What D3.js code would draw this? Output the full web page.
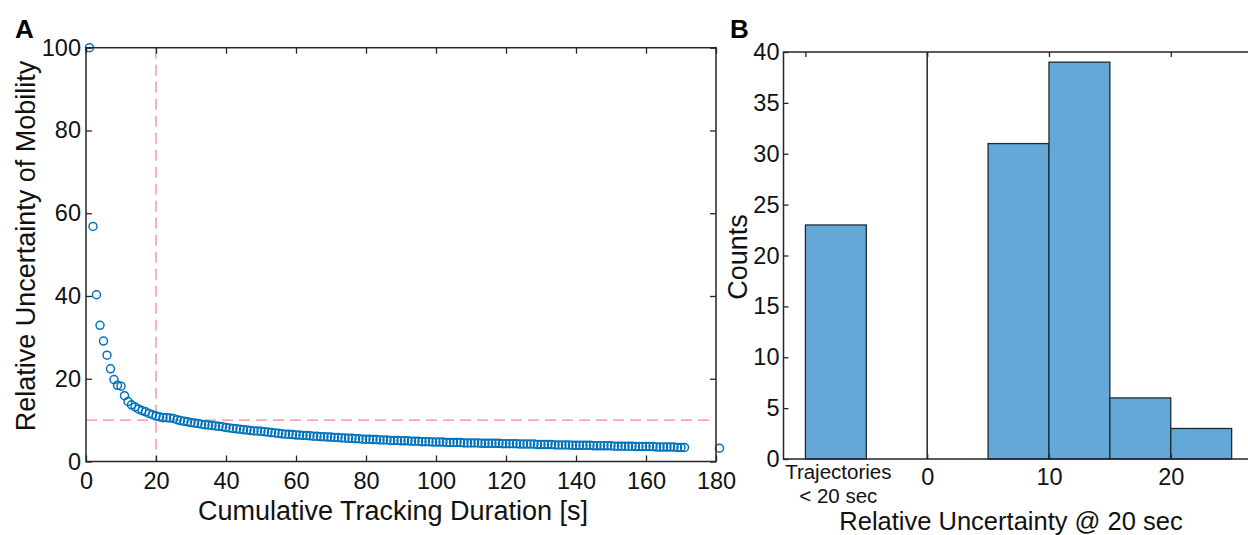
<!DOCTYPE html>
<html>
<head>
<meta charset="utf-8">
<script src="https://cdn.jsdelivr.net/npm/d3@7"></script>
<style>
  body { margin: 0; background: #fff; }
  svg { display: block; font-family: "Liberation Sans", Arial, Helvetica, sans-serif; }
</style>
</head>
<body>
<svg id="chart" width="1248" height="535"></svg>
<script>
// panel A: relative uncertainty vs cumulative tracking duration
var durations = [
  1,2,3,4,5,6,7,8,9,10,11,12,13,14,15,16,17,18,19,20,
  21,22,23,24,25,26,27,28,29,30,31,32,33,34,35,36,37,38,39,40,
  41,42,43,44,45,46,47,48,49,50,51,52,53,54,55,56,57,58,59,60,
  61,62,63,64,65,66,67,68,69,70,71,72,73,74,75,76,77,78,79,80,
  81,82,83,84,85,86,87,88,89,90,91,92,93,94,95,96,97,98,99,100,
  101,102,103,104,105,106,107,108,109,110,111,112,113,114,115,116,117,118,119,120,
  121,122,123,124,125,126,127,128,129,130,131,132,133,134,135,136,137,138,139,140,
  141,142,143,144,145,146,147,148,149,150,151,152,153,154,155,156,157,158,159,160,
  161,162,163,164,165,166,167,168,169,170,171,181
];
var uncertainty = [
  100,56.8,40.3,32.9,29.1,25.7,22.4,19.8,18.4,18.2,15.9,14.5,13.7,13.2,12.7,12.3,12.0,11.6,11.3,11.0,
  10.8,10.6,10.6,10.5,10.4,10.1,9.9,9.7,9.6,9.4,9.3,9.2,9.0,8.9,8.8,8.7,8.6,8.5,8.4,8.2,
  8.1,8.0,7.9,7.8,7.7,7.6,7.5,7.4,7.4,7.3,7.2,7.1,7.0,6.9,6.8,6.7,6.6,6.6,6.5,6.4,
  6.4,6.3,6.3,6.2,6.1,6.1,6.0,6.0,5.9,5.9,5.8,5.8,5.7,5.7,5.6,5.6,5.5,5.5,5.4,5.4,
  5.4,5.3,5.3,5.2,5.2,5.2,5.1,5.1,5.1,5.0,5.0,5.0,4.9,4.9,4.9,4.8,4.8,4.8,4.7,4.7,
  4.7,4.7,4.6,4.6,4.6,4.6,4.6,4.5,4.5,4.5,4.5,4.5,4.4,4.4,4.4,4.4,4.4,4.4,4.3,4.3,
  4.3,4.3,4.3,4.2,4.2,4.2,4.2,4.2,4.1,4.1,4.1,4.1,4.1,4.0,4.0,4.0,4.0,4.0,3.9,3.9,
  3.9,3.9,3.9,3.9,3.8,3.8,3.8,3.8,3.8,3.8,3.7,3.7,3.7,3.7,3.7,3.7,3.6,3.6,3.6,3.6,
  3.6,3.6,3.5,3.5,3.5,3.5,3.5,3.5,3.4,3.4,3.4,3.2
];
var xTicksA = [0,20,40,60,80,100,120,140,160,180];
var yTicksA = [0,20,40,60,80,100];
var cutoffDuration = 20;
var cutoffUncertainty = 10;

// panel B: histogram of relative uncertainty at 20 sec
var binStarts = [-10, 0, 5, 10, 15, 20];
var binEnds   = [-5, 5, 10, 15, 20, 25];
var counts    = [23, 0, 31, 39, 6, 3];
var xTicksB = [0, 10, 20];
var yTicksB = [0,5,10,15,20,25,30,35,40];
var shortLabel = ["Trajectories", "< 20 sec"];

var axisColor = "#262626";
var svg = d3.select("#chart");

// ---------- panel A ----------
var xA = d3.scaleLinear().domain([0,180]).range([86,716]);
var yA = d3.scaleLinear().domain([0,100]).range([461.5,47.7]);

var gA = svg.append("g");

gA.append("line")
  .attr("x1", xA(cutoffDuration)).attr("x2", xA(cutoffDuration))
  .attr("y1", yA(100)).attr("y2", yA(0))
  .attr("stroke", "#f28b8b").attr("stroke-width", 1.3).attr("stroke-dasharray", "11,6");
gA.append("line")
  .attr("x1", xA(0)).attr("x2", xA(180))
  .attr("y1", yA(cutoffUncertainty)).attr("y2", yA(cutoffUncertainty))
  .attr("stroke", "#f28b8b").attr("stroke-width", 1.3).attr("stroke-dasharray", "11,6");

gA.selectAll(".pt")
  .data(durations)
  .enter().append("circle")
  .attr("class", "pt")
  .attr("cx", function(d){ return xA(d); })
  .attr("cy", function(d,i){ return yA(uncertainty[i]); })
  .attr("r", 4)
  .attr("fill", "none")
  .attr("stroke", "#0072bd")
  .attr("stroke-width", 1.5);

function styleAxis(g){
  g.select(".domain").remove();
  g.selectAll(".tick line").attr("stroke", axisColor).attr("stroke-width", 1.3);
  g.selectAll(".tick text").attr("fill", "#111").attr("font-size", 23.5);
}

gA.append("g").attr("transform","translate(0,"+yA(0)+")")
  .call(d3.axisBottom(xA).tickValues(xTicksA).tickSizeInner(-6).tickSizeOuter(0).tickPadding(11))
  .call(styleAxis);
gA.append("g").attr("transform","translate(0,"+yA(100)+")")
  .call(d3.axisTop(xA).tickValues(xTicksA).tickSizeInner(-6).tickSizeOuter(0).tickFormat(""))
  .call(styleAxis);
gA.append("g").attr("transform","translate("+xA(0)+",0)")
  .call(d3.axisLeft(yA).tickValues(yTicksA).tickSizeInner(-6).tickSizeOuter(0).tickPadding(5))
  .call(styleAxis);
gA.append("g").attr("transform","translate("+xA(180)+",0)")
  .call(d3.axisRight(yA).tickValues(yTicksA).tickSizeInner(-6).tickSizeOuter(0).tickFormat(""))
  .call(styleAxis);

gA.append("rect")
  .attr("x", xA(0)).attr("y", yA(100))
  .attr("width", xA(180)-xA(0)).attr("height", yA(0)-yA(100))
  .attr("fill","none").attr("stroke", axisColor).attr("stroke-width", 1.5);

gA.append("text")
  .attr("x", 393).attr("y", 520)
  .attr("text-anchor","middle").attr("font-size", 27).attr("fill","#111")
  .text("Cumulative Tracking Duration [s]");
gA.append("text")
  .attr("transform","translate(35,246) rotate(-90)")
  .attr("text-anchor","middle").attr("font-size", 27).attr("fill","#111")
  .text("Relative Uncertainty of Mobility");
gA.append("text")
  .attr("x", 15).attr("y", 38)
  .attr("font-size", 26).attr("font-weight","bold").attr("fill","#000")
  .text("A");

// ---------- panel B ----------
var xB = d3.scaleLinear().domain([-11.8, 27]).range([783.5, 1256]);
var yB = d3.scaleLinear().domain([0,40]).range([459,52]);

var gB = svg.append("g");

gB.selectAll(".bar")
  .data(counts)
  .enter().append("rect")
  .attr("class","bar")
  .attr("x", function(d,i){ return xB(binStarts[i]); })
  .attr("y", function(d){ return yB(d); })
  .attr("width", function(d,i){ return xB(binEnds[i]) - xB(binStarts[i]); })
  .attr("height", function(d){ return yB(0) - yB(d); })
  .attr("fill", "#64a8d8")
  .attr("stroke", "#1e2a33")
  .attr("stroke-width", 1.3)
  .style("display", function(d){ return d > 0 ? null : "none"; });

// separator at zero
gB.append("line")
  .attr("x1", xB(0)).attr("x2", xB(0))
  .attr("y1", yB(40)).attr("y2", yB(0))
  .attr("stroke", axisColor).attr("stroke-width", 1.5);

gB.append("g").attr("transform","translate(0,"+yB(0)+")")
  .call(d3.axisBottom(xB).tickValues(xTicksB).tickSizeInner(-5).tickSizeOuter(0).tickPadding(9))
  .call(styleAxis);
gB.append("g").attr("transform","translate(0,"+yB(40)+")")
  .call(d3.axisTop(xB).tickValues([-10].concat(xTicksB)).tickSizeInner(-5).tickSizeOuter(0).tickFormat(""))
  .call(styleAxis);
gB.append("g").attr("transform","translate("+xB(-11.8)+",0)")
  .call(d3.axisLeft(yB).tickValues(yTicksB).tickSizeInner(-5).tickSizeOuter(0).tickPadding(4))
  .call(styleAxis);

// axis frame (left, top, bottom; right side is off-page)
gB.append("path")
  .attr("d", "M" + xB(27) + "," + yB(40) + "H" + xB(-11.8) + "V" + yB(0) + "H" + xB(27))
  .attr("fill","none").attr("stroke", axisColor).attr("stroke-width", 1.5);

gB.append("text")
  .attr("text-anchor","middle").attr("font-size", 20.5).attr("fill","#111")
  .selectAll("tspan").data(shortLabel).enter().append("tspan")
  .attr("x", xB(-7.3))
  .attr("y", function(d,i){ return 479 + i*24; })
  .text(function(d){ return d; });

gB.append("text")
  .attr("x", 1011).attr("y", 529.5)
  .attr("text-anchor","middle").attr("font-size", 25.5).attr("fill","#111")
  .text("Relative Uncertainty @ 20 sec");
gB.append("text")
  .attr("transform","translate(747,257) rotate(-90)")
  .attr("text-anchor","middle").attr("font-size", 27).attr("fill","#111")
  .text("Counts");
gB.append("text")
  .attr("x", 730).attr("y", 38)
  .attr("font-size", 26).attr("font-weight","bold").attr("fill","#000")
  .text("B");
</script>
</body>
</html>
